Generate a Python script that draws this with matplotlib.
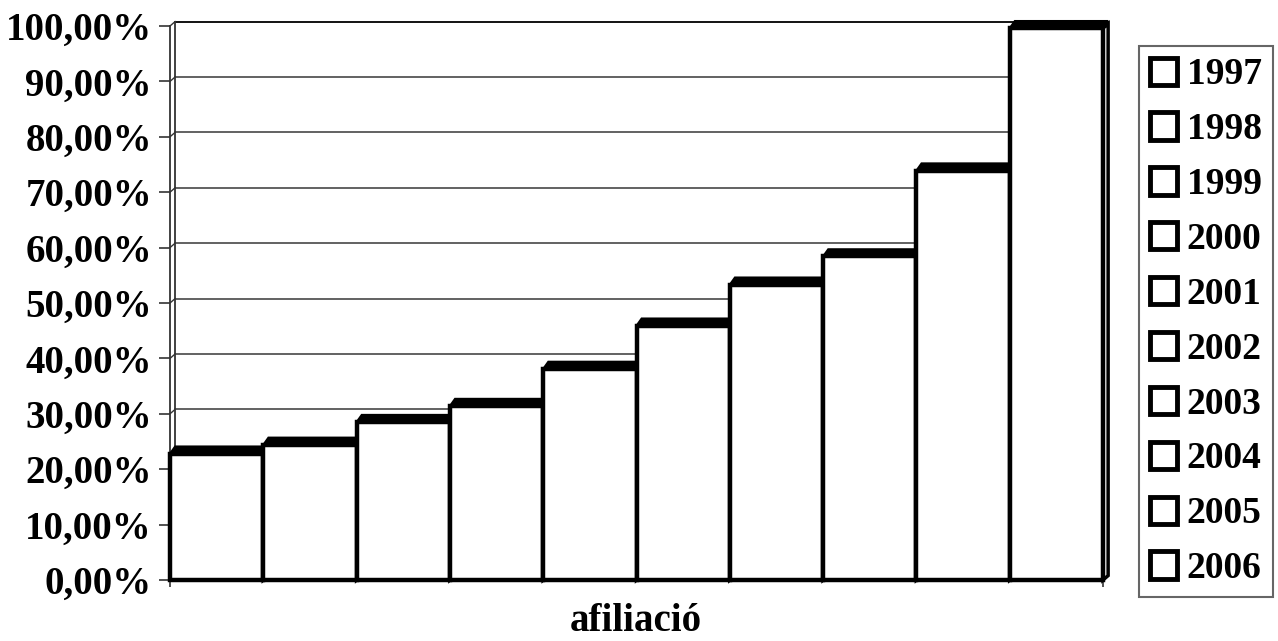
import matplotlib
matplotlib.use("Agg")
import matplotlib.pyplot as plt
from matplotlib.patches import Polygon

plt.rcParams['font.family'] = ['Liberation Serif', 'DejaVu Serif']
plt.rcParams['font.weight'] = 'bold'

# data
years = ['1997', '1998', '1999', '2000', '2001', '2002', '2003', '2004', '2005', '2006']
afiliacio = [23.2, 24.8, 28.9, 31.8, 38.5, 46.3, 53.7, 58.8, 74.3, 100.0]
yticks = [0, 10, 20, 30, 40, 50, 60, 70, 80, 90, 100]
xlabel = 'afiliació'

fig = plt.figure(figsize=(12.78, 6.41), dpi=100)
ax = fig.add_axes([170/1278, 61/641, 933/1278, 554/641])

# fake 3D depth
dx = 0.055
dy = 0.8
band = 0.8

ax.set_xlim(-0.5, len(years) - 0.5)
ax.set_ylim(0, 100)

# back wall gridlines
for t in yticks[1:]:
    ax.plot([-0.5 + dx, len(years) - 0.5 + dx], [t + dy, t + dy],
            color='black' if t == 100 else '#555555', lw=1.3, zorder=1, clip_on=False)
# left wall
ax.plot([-0.5 + dx, -0.5 + dx], [dy, 100 + dy], color='#333333', lw=1.3, zorder=1, clip_on=False)
ax.plot([-0.5, -0.5], [0, 100], color='#333333', lw=1.3, zorder=1, clip_on=False)
for t in yticks:
    ax.plot([-0.5, -0.5 + dx], [t, t + dy], color='#333333', lw=1.0, zorder=1, clip_on=False)

handles = []
for i, (yr, v) in enumerate(zip(years, afiliacio)):
    x0, x1 = i - 0.5, i + 0.5
    h = v - band / 2
    z = 3 + i
    side = Polygon([(x1, 0), (x1 + dx, dy), (x1 + dx, h + dy), (x1, h)], closed=True,
                   facecolor='white', edgecolor='black', lw=2.5, zorder=z, clip_on=False)
    ax.add_patch(side)
    b = ax.bar(i, h, width=1.0, color='white', edgecolor='black', linewidth=3.2,
               zorder=z + 0.5, label=yr, clip_on=False)
    top = Polygon([(x0, h), (x0 + dx, h + band + 0.5), (x1 + dx, h + band + 0.5), (x1, h)],
                  closed=True, facecolor='black', edgecolor='black', lw=1.5,
                  zorder=z + 0.6, clip_on=False)
    ax.add_patch(top)
    handles.append(b)

for s in ['top', 'right', 'left']:
    ax.spines[s].set_visible(False)
ax.spines['bottom'].set_linewidth(1.2)

ax.set_yticks(yticks)
ax.set_yticklabels(['%d,00%%' % t for t in yticks])
ax.set_xticks([-0.5, len(years) - 0.5])
ax.set_xticklabels(['', ''])
ax.tick_params(axis='y', length=8, width=1.2, pad=5, labelsize=28, color='#333333')
ax.tick_params(axis='x', length=5, width=1.2, color='#333333')
for lab in ax.get_yticklabels():
    lab.set_fontweight('bold')

fig.text(636/1278, 1 - 631/641, xlabel, ha='center', va='baseline', fontsize=28, fontweight='bold')

leg = fig.legend(handles=handles, labels=years, loc='upper left',
                 bbox_to_anchor=(1139/1278, 1 - 46/641), fontsize=27,
                 frameon=True, fancybox=False, edgecolor='#666666', framealpha=1,
                 handlelength=0.72, handleheight=0.74, handletextpad=0.25,
                 labelspacing=0.53, borderpad=0.3, borderaxespad=0)
leg.get_frame().set_linewidth(1.5)
for p in leg.get_patches():
    p.set_linewidth(3.5)
for t in leg.get_texts():
    t.set_fontweight('bold')

fig.savefig('out.png', dpi=100)
